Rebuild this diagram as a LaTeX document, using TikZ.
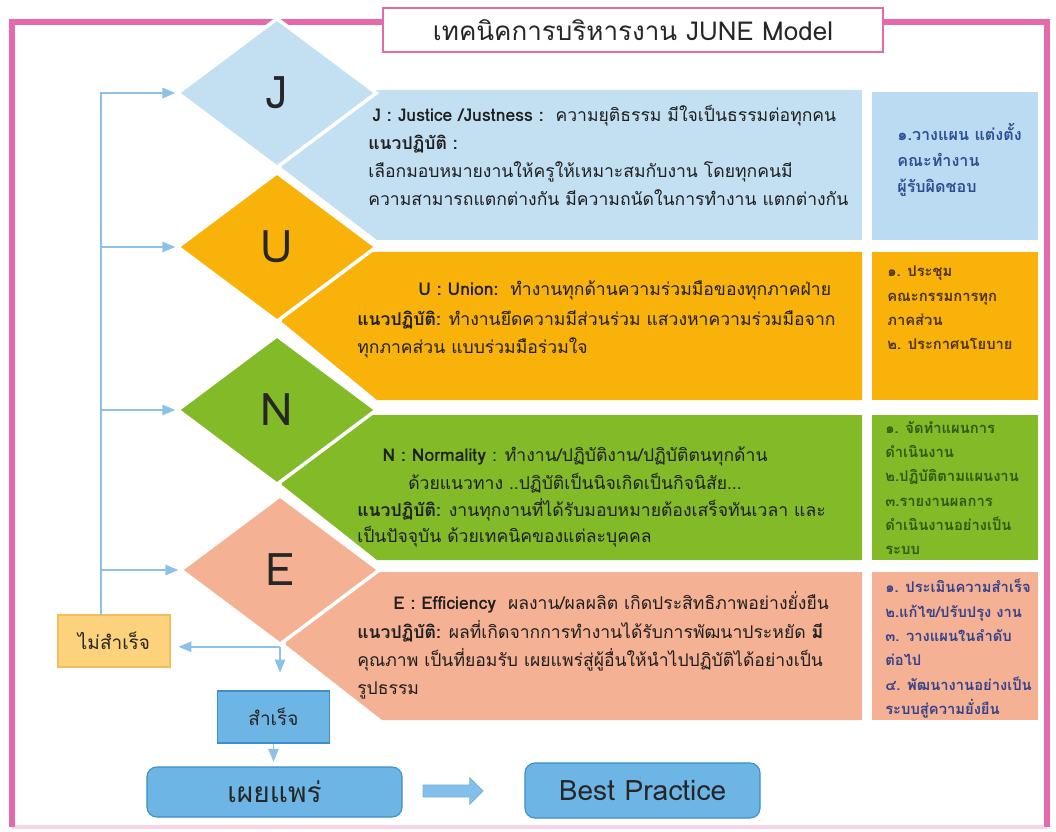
\documentclass[tikz,border=0pt]{standalone}
\usepackage{fontspec}
\setmainfont{Loma}[Script=Thai]
\usetikzlibrary{arrows,shapes.geometric,shapes.arrows}

\definecolor{framepink}{HTML}{E66AAB}
\definecolor{jblue}{HTML}{C3E0F3}
\definecolor{jside}{HTML}{BADBF2}
\definecolor{uorange}{HTML}{F9B20A}
\definecolor{ngreen}{HTML}{82BA28}
\definecolor{esalmon}{HTML}{F5B193}
\definecolor{linkblue}{HTML}{8CC2E8}
\definecolor{boxblue}{HTML}{6DB5E5}
\definecolor{boxedge}{HTML}{3E8ECB}
\definecolor{failfill}{HTML}{FCD27C}
\definecolor{failedge}{HTML}{F0BE5A}
\definecolor{jtext}{HTML}{2F4F94}
\definecolor{utext}{HTML}{4A3200}
\definecolor{ntext}{HTML}{2E5A0E}
\definecolor{etext}{HTML}{34428C}

\tikzset{
  letter/.style={diamond,draw=white,line width=2.5pt,inner sep=0pt,
    minimum width=5cm,minimum height=3.75cm,
    font=\fontsize{32}{32}\selectfont,text=black!85},
  bodyline/.style={anchor=base west,inner sep=0pt,text=black!88,
    font=\fontsize{12.5}{15}\selectfont},
  sidetext/.style={anchor=north west,align=left,inner sep=0pt,
    font=\fontsize{10.5}{17.3}\selectfont\bfseries},
  link/.style={draw=linkblue,line width=1.1pt},
  arrowed/.style={-triangle 45},
  flowbox/.style={draw=boxedge,fill=boxblue,line width=0.8pt,inner sep=0pt,
    text=black!85},
}

\begin{document}
\begin{tikzpicture}[x=0.025cm,y=-0.025cm]
\useasboundingbox (0,0) rectangle (1056,832);
% frame and title
\draw[framepink!30,line width=3pt] (12,827) -- (1047,827);
\draw[framepink,line width=4pt] (12,827) -- (12,22) -- (1047,22) -- (1047,827);
\node[draw=framepink,fill=white,line width=1.2pt,minimum width=12.5cm,
  minimum height=1.1cm,font=\fontsize{18.5}{18.5}\selectfont,text=black!85]
  (title) at (633,30) {เทคนิคการบริหารงาน JUNE Model};

% banners
\fill[jblue] (277,93) -- (377,90) -- (862,90) -- (862,240) -- (377,240) -- (282,168) -- cycle;
\fill[uorange] (277,247) -- (377,252) -- (862,252) -- (862,400) -- (377,400) -- (282,322) -- cycle;
\fill[ngreen] (277,410) -- (377,415) -- (862,415) -- (862,560) -- (377,560) -- (282,485) -- cycle;
\fill[esalmon] (280,570) -- (380,572) -- (862,572) -- (862,720) -- (382,720) -- (286,645) -- cycle;

% side boxes
\fill[jside] (872,92) rectangle (1038,240);
\fill[uorange] (872,252) rectangle (1038,400);
\fill[ngreen] (872,415) rectangle (1038,560);
\fill[esalmon] (872,572) rectangle (1038,720);

% diamonds
\node[letter,fill=jblue] (J) at (277,93) {J};
\node[letter,fill=uorange] (U) at (277,247) {U};
\node[letter,fill=ngreen] (N) at (277,410) {N};
\node[letter,fill=esalmon] (E) at (280,570) {E};

% J text
\node[bodyline] (j1) at (372,122) {\textbf{J : Justice /Justness :}\ \ ความยุติธรรม มีใจเป็นธรรมต่อทุกคน};
\node[bodyline] (j2) at (368,150) {\textbf{แนวปฏิบัติ :}};
\node[bodyline] (j3) at (368,178) {เลือกมอบหมายงานให้ครูให้เหมาะสมกับงาน โดยทุกคนมี};
\node[bodyline] (j4) at (368,206) {ความสามารถแตกต่างกัน มีความถนัดในการทำงาน แตกต่างกัน};
\node[sidetext,text=jtext,font=\fontsize{11.5}{18.5}\selectfont\bfseries]
  (js) at (897,123) {๑.วางแผน แต่งตั้ง\\คณะทำงาน\\ผู้รับผิดชอบ};

% U text
\node[bodyline] (u1) at (418,296) {\textbf{U : Union:}\ \ ทำงานทุกด้านความร่วมมือของทุกภาคฝ่าย};
\node[bodyline] (u2) at (357,326) {\textbf{แนวปฏิบัติ:} ทำงานยึดความมีส่วนร่วม แสวงหาความร่วมมือจาก};
\node[bodyline] (u3) at (357,354) {ทุกภาคส่วน แบบร่วมมือร่วมใจ};
\node[sidetext,text=utext] (us) at (887,266) {๑. ประชุม\\คณะกรรมการทุก\\ภาคส่วน\\๒. ประกาศนโยบาย};

% N text
\node[bodyline,anchor=base] (n1) at (575,461) {\textbf{N : Normality} : ทำงาน/ปฏิบัติงาน/ปฏิบัติตนทุกด้าน};
\node[bodyline,anchor=base] (n2) at (575,489) {ด้วยแนวทาง ..ปฏิบัติเป็นนิจเกิดเป็นกิจนิสัย...};
\node[bodyline] (n3) at (357,516) {\textbf{แนวปฏิบัติ:} งานทุกงานที่ได้รับมอบหมายต้องเสร็จทันเวลา และ};
\node[bodyline] (n4) at (357,542) {เป็นปัจจุบัน ด้วยเทคนิคของแต่ละบุคคล};
\begin{scope}
\clip (872,415) rectangle (1038,560);
\node[sidetext,text=ntext] (ns) at (885,421) {๑. จัดทำแผนการ\\ดำเนินงาน\\๒.ปฏิบัติตามแผนงาน\\๓.รายงานผลการ\\ดำเนินงานอย่างเป็น\\ระบบ};
\end{scope}

% E text
\node[bodyline] (e1) at (393,609) {\textbf{E : Efficiency}\ \ ผลงาน/ผลผลิต เกิดประสิทธิภาพอย่างยั่งยืน};
\node[bodyline] (e2) at (357,638) {\textbf{แนวปฏิบัติ:} ผลที่เกิดจากการทำงานได้รับการพัฒนาประหยัด \textbf{มี}};
\node[bodyline] (e3) at (357,666) {คุณภาพ เป็นที่ยอมรับ เผยแพร่สู่ผู้อื่นให้นำไปปฏิบัติได้อย่างเป็น};
\node[bodyline] (e4) at (357,694) {รูปธรรม};
\begin{scope}
\clip (872,572) rectangle (1038,720);
\node[sidetext,text=etext] (es) at (885,579) {๑. ประเมินความสำเร็จ\\๒.แก้ไข/ปรับปรุง งาน\\๓. วางแผนในลำดับ\\ต่อไป\\๔. พัฒนางานอย่างเป็น\\ระบบสู่ความยั่งยืน};
\end{scope}

% result boxes
\node[draw=failedge,fill=failfill,line width=0.8pt,minimum width=2.8cm,
  minimum height=1.3cm,font=\fontsize{13.5}{13.5}\selectfont,text=black!85]
  (fail) at (114,641) {ไม่สำเร็จ};
\node[flowbox,minimum width=2.78cm,minimum height=1.3cm,
  font=\fontsize{13.5}{13.5}\selectfont] (ok) at (273.5,717) {สำเร็จ};
\node[flowbox,rounded corners=0.25cm,minimum width=6.375cm,minimum height=1.25cm,
  font=\fontsize{20}{20}\selectfont] (pub) at (274.5,792) {เผยแพร่};
\node[flowbox,rounded corners=0.25cm,minimum width=5.875cm,minimum height=1.375cm,
  font=\fontsize{20}{20}\selectfont] (best) at (642.5,790.5) {Best Practice};
\node[single arrow,draw=boxedge!70,fill=boxblue!85,line width=0.6pt,
  minimum height=1.5cm,inner sep=0.14cm,single arrow head extend=0.18cm]
  (fwd) at (450,791) {};

% connectors
\coordinate (spine) at (101,615);
\draw[link,arrowed] (spine) -- (spine |- J.west) -- (J.west);
\draw[link,arrowed] (spine |- U.west) -- (U.west);
\draw[link,arrowed] (spine |- N.west) -- (N.west);
\draw[link,arrowed] (spine |- E.west) -- (E.west);
\draw[link,arrowed,shorten >=0.2cm] (E.south) -- (E.south -| fail.east);
\draw[link,arrowed,shorten >=0.45cm] (E.south) -- (E.south |- ok.north);
\draw[link,arrowed,shorten >=0.12cm] (ok.south) -- (ok.south |- pub.north);
\end{tikzpicture}
\end{document}
